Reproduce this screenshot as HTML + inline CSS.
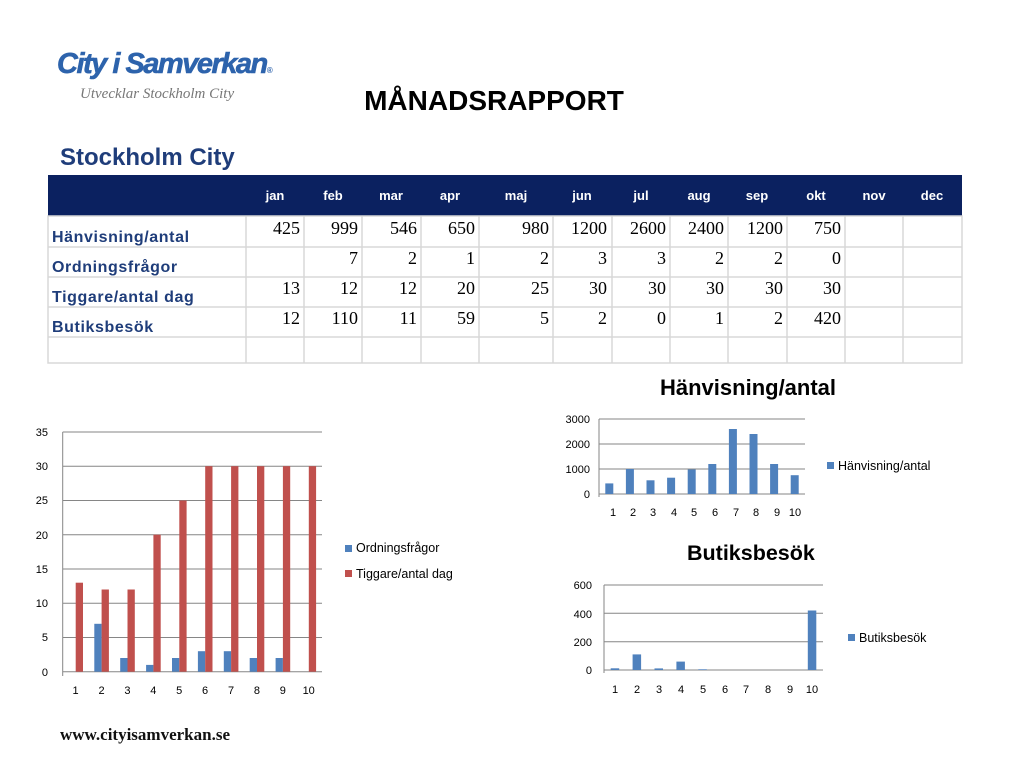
<!DOCTYPE html>
<html><head><meta charset="utf-8"><style>
html,body{margin:0;padding:0;background:#fff;}
svg{display:block;}
</style></head><body>
<svg width="1024" height="768" viewBox="0 0 1024 768" xmlns="http://www.w3.org/2000/svg" font-family="Liberation Sans, sans-serif">
<!-- logo -->
<text x="57" y="73" font-size="29" font-weight="bold" font-style="italic" fill="#2d63ac" letter-spacing="-1.5" stroke="#2d63ac" stroke-width="0.6">City i Samverkan<tspan font-size="8" stroke="none">®</tspan></text>
<text x="80" y="98" font-size="15" font-style="italic" font-family="Liberation Serif, serif" fill="#777">Utvecklar Stockholm City</text>
<text x="494" y="110" font-size="28" font-weight="bold" text-anchor="middle" fill="#000">MÅNADSRAPPORT</text>
<text x="60" y="165" font-size="24" font-weight="bold" fill="#1f3d7a">Stockholm City</text>

<!-- table -->
<rect x="48" y="175" width="914" height="41" fill="#0b2160"/>
<g fill="#fff" font-size="13" font-weight="bold" text-anchor="middle">
<text x="275" y="200">jan</text><text x="333" y="200">feb</text><text x="391" y="200">mar</text><text x="450" y="200">apr</text><text x="516" y="200">maj</text><text x="582" y="200">jun</text><text x="641" y="200">jul</text><text x="699" y="200">aug</text><text x="757" y="200">sep</text><text x="816" y="200">okt</text><text x="874" y="200">nov</text><text x="932" y="200">dec</text>
</g>
<g stroke="#d8d8d8" stroke-width="1.5" fill="none">
<rect x="48" y="216" width="914" height="147"/>
<line x1="48" y1="247" x2="962" y2="247"/><line x1="48" y1="277" x2="962" y2="277"/><line x1="48" y1="307" x2="962" y2="307"/><line x1="48" y1="337" x2="962" y2="337"/>
<line x1="246" y1="216" x2="246" y2="363"/><line x1="304" y1="216" x2="304" y2="363"/><line x1="362" y1="216" x2="362" y2="363"/><line x1="421" y1="216" x2="421" y2="363"/><line x1="479" y1="216" x2="479" y2="363"/><line x1="553" y1="216" x2="553" y2="363"/><line x1="612" y1="216" x2="612" y2="363"/><line x1="670" y1="216" x2="670" y2="363"/><line x1="728" y1="216" x2="728" y2="363"/><line x1="787" y1="216" x2="787" y2="363"/><line x1="845" y1="216" x2="845" y2="363"/><line x1="903" y1="216" x2="903" y2="363"/>
</g>
<g fill="#1f3d7a" font-size="16" font-weight="bold" letter-spacing="0.6">
<text x="52" y="242">Hänvisning/antal</text><text x="52" y="272">Ordningsfrågor</text><text x="52" y="302">Tiggare/antal dag</text><text x="52" y="332">Butiksbesök</text>
</g>
<g font-family="Liberation Serif, serif" font-size="18" text-anchor="end" fill="#000">
<text x="300" y="234">425</text><text x="358" y="234">999</text><text x="417" y="234">546</text><text x="475" y="234">650</text><text x="549" y="234">980</text><text x="607" y="234">1200</text><text x="666" y="234">2600</text><text x="724" y="234">2400</text><text x="783" y="234">1200</text><text x="841" y="234">750</text>
<text x="358" y="264">7</text><text x="417" y="264">2</text><text x="475" y="264">1</text><text x="549" y="264">2</text><text x="607" y="264">3</text><text x="666" y="264">3</text><text x="724" y="264">2</text><text x="783" y="264">2</text><text x="841" y="264">0</text>
<text x="300" y="294">13</text><text x="358" y="294">12</text><text x="417" y="294">12</text><text x="475" y="294">20</text><text x="549" y="294">25</text><text x="607" y="294">30</text><text x="666" y="294">30</text><text x="724" y="294">30</text><text x="783" y="294">30</text><text x="841" y="294">30</text>
<text x="300" y="324">12</text><text x="358" y="324">110</text><text x="417" y="324">11</text><text x="475" y="324">59</text><text x="549" y="324">5</text><text x="607" y="324">2</text><text x="666" y="324">0</text><text x="724" y="324">1</text><text x="783" y="324">2</text><text x="841" y="324">420</text>
</g>

<!-- left chart -->
<g stroke="#868686" stroke-width="1">
<line x1="62.7" y1="432" x2="322" y2="432"/><line x1="62.7" y1="466.2" x2="322" y2="466.2"/><line x1="62.7" y1="500.5" x2="322" y2="500.5"/><line x1="62.7" y1="534.7" x2="322" y2="534.7"/><line x1="62.7" y1="569" x2="322" y2="569"/><line x1="62.7" y1="603.2" x2="322" y2="603.2"/><line x1="62.7" y1="637.5" x2="322" y2="637.5"/><line x1="62.7" y1="671.7" x2="322" y2="671.7"/>
<line x1="62.7" y1="432" x2="62.7" y2="676"/>
</g>
<g fill="#4f81bd">
<rect x="94.3" y="623.8" width="7.3" height="47.9"/><rect x="120.2" y="658" width="7.3" height="13.7"/><rect x="146.1" y="664.9" width="7.3" height="6.8"/><rect x="172" y="658" width="7.3" height="13.7"/><rect x="197.9" y="651.2" width="7.3" height="20.5"/><rect x="223.8" y="651.2" width="7.3" height="20.5"/><rect x="249.7" y="658" width="7.3" height="13.7"/><rect x="275.6" y="658" width="7.3" height="13.7"/>
</g>
<g fill="#c0504d">
<rect x="75.7" y="582.7" width="7.3" height="89"/><rect x="101.6" y="589.5" width="7.3" height="82.2"/><rect x="127.5" y="589.5" width="7.3" height="82.2"/><rect x="153.4" y="534.7" width="7.3" height="137"/><rect x="179.3" y="500.5" width="7.3" height="171.2"/><rect x="205.2" y="466.2" width="7.3" height="205.5"/><rect x="231.1" y="466.2" width="7.3" height="205.5"/><rect x="257" y="466.2" width="7.3" height="205.5"/><rect x="282.9" y="466.2" width="7.3" height="205.5"/><rect x="308.8" y="466.2" width="7.3" height="205.5"/>
</g>
<g font-size="11" fill="#000" text-anchor="end">
<text x="48" y="436">35</text><text x="48" y="470">30</text><text x="48" y="504">25</text><text x="48" y="539">20</text><text x="48" y="573">15</text><text x="48" y="607">10</text><text x="48" y="641">5</text><text x="48" y="676">0</text>
</g>
<g font-size="11" fill="#000" text-anchor="middle">
<text x="75.6" y="694">1</text><text x="101.5" y="694">2</text><text x="127.4" y="694">3</text><text x="153.3" y="694">4</text><text x="179.2" y="694">5</text><text x="205.1" y="694">6</text><text x="231" y="694">7</text><text x="256.9" y="694">8</text><text x="282.8" y="694">9</text><text x="308.7" y="694">10</text>
</g>
<rect x="345" y="545" width="7" height="7" fill="#4f81bd"/><text x="356" y="552" font-size="12.5">Ordningsfrågor</text>
<rect x="345" y="570" width="7" height="7" fill="#c0504d"/><text x="356" y="578" font-size="12.5">Tiggare/antal dag</text>

<!-- top right chart -->
<text x="660" y="395" font-size="22" font-weight="bold" fill="#000">Hänvisning/antal</text>
<g stroke="#868686" stroke-width="1">
<line x1="599" y1="419" x2="805" y2="419"/><line x1="599" y1="444" x2="805" y2="444"/><line x1="599" y1="469" x2="805" y2="469"/><line x1="599" y1="494" x2="805" y2="494"/><line x1="599" y1="419" x2="599" y2="497"/>
</g>
<g fill="#4f81bd">
<rect x="605.3" y="483.4" width="8" height="10.6"/><rect x="625.9" y="469" width="8" height="25"/><rect x="646.5" y="480.3" width="8" height="13.7"/><rect x="667.1" y="477.7" width="8" height="16.3"/><rect x="687.7" y="469.5" width="8" height="24.5"/><rect x="708.3" y="464" width="8" height="30"/><rect x="728.9" y="429" width="8" height="65"/><rect x="749.5" y="434" width="8" height="60"/><rect x="770.1" y="464" width="8" height="30"/><rect x="790.7" y="475.2" width="8" height="18.8"/>
</g>
<g font-size="11" text-anchor="end"><text x="590" y="423">3000</text><text x="590" y="448">2000</text><text x="590" y="473">1000</text><text x="590" y="498">0</text></g>
<g font-size="11" text-anchor="middle"><text x="613" y="516">1</text><text x="633" y="516">2</text><text x="653" y="516">3</text><text x="674" y="516">4</text><text x="694" y="516">5</text><text x="715" y="516">6</text><text x="736" y="516">7</text><text x="756" y="516">8</text><text x="777" y="516">9</text><text x="795" y="516">10</text></g>
<rect x="827" y="462" width="7" height="7" fill="#4f81bd"/><text x="838" y="470" font-size="12.5">Hänvisning/antal</text>

<!-- bottom right chart -->
<text x="687" y="560" font-size="21.5" font-weight="bold" fill="#000">Butiksbesök</text>
<g stroke="#868686" stroke-width="1">
<line x1="604" y1="585" x2="823" y2="585"/><line x1="604" y1="613.3" x2="823" y2="613.3"/><line x1="604" y1="641.7" x2="823" y2="641.7"/><line x1="604" y1="670" x2="823" y2="670"/><line x1="604" y1="585" x2="604" y2="673"/>
</g>
<g fill="#4f81bd">
<rect x="610.7" y="668.3" width="8.5" height="1.7"/><rect x="632.6" y="654.4" width="8.5" height="15.6"/><rect x="654.5" y="668.4" width="8.5" height="1.6"/><rect x="676.4" y="661.6" width="8.5" height="8.4"/><rect x="698.3" y="669.3" width="8.5" height="0.7"/><rect x="807.8" y="610.5" width="8.5" height="59.5"/>
</g>
<g font-size="11" text-anchor="end"><text x="592" y="589">600</text><text x="592" y="618">400</text><text x="592" y="646">200</text><text x="592" y="674">0</text></g>
<g font-size="11" text-anchor="middle"><text x="615" y="693">1</text><text x="637" y="693">2</text><text x="659" y="693">3</text><text x="681" y="693">4</text><text x="703" y="693">5</text><text x="725" y="693">6</text><text x="746" y="693">7</text><text x="768" y="693">8</text><text x="790" y="693">9</text><text x="812" y="693">10</text></g>
<rect x="848" y="634" width="7" height="7" fill="#4f81bd"/><text x="859" y="642" font-size="12.5">Butiksbesök</text>

<text x="60" y="740" font-size="17" font-weight="bold" font-family="Liberation Serif, serif" fill="#111">www.cityisamverkan.se</text>
</svg>
</body></html>
